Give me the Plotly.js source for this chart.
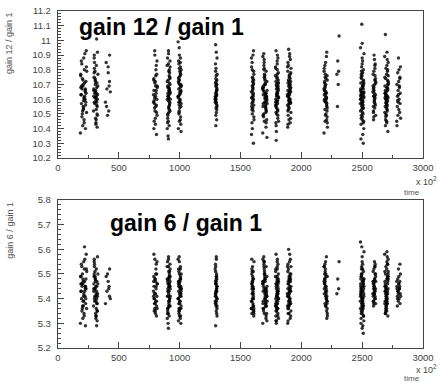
<!DOCTYPE html>
<html>
<head>
<meta charset="utf-8">
<script src="https://cdn.plot.ly/plotly-3.0.1.min.js"></script>
<style>html,body{margin:0;padding:0;background:#fff;}#chart{width:438px;height:383px;}</style>
</head>
<body>
<div id="chart"></div>
<script>
// Time positions of each run cluster (x, in units of 10^2) and their spread
const bandX = [210, 310, 410, 800, 910, 1000, 1300, 1600, 1700, 1800, 1900, 2200, 2300, 2500, 2600, 2700, 2800];
const bandHalfWidth = [26, 18, 20, 17, 13, 13, 8, 11, 19, 13, 15, 15, 12, 15, 12, 15, 16];
// hand-read in-band horizontal scatter pattern (fraction of half width)
const jit = [-0.8,0.3,-0.1,0.9,-0.5,0.6,0.0,-0.9,0.4,-0.3,0.8,-0.6,0.2,-0.2,0.7,-0.7,0.1,0.5,-0.4,1.0,-1.0,0.35,-0.15,0.65,-0.55,0.15,-0.85,0.45,-0.35,0.85,-0.05,0.55,-0.65,0.25,-0.25,0.75,-0.75,0.05,0.95,-0.45,0.3,-0.9,0.6,-0.2,0.0,0.8,-0.6,0.4,-0.4,0.2,-0.7,0.1,0.9,-0.3,0.5];

// gain 12 / gain 1 values per cluster
const g12_210 = [10.63,10.71,10.55,10.82,10.48,10.67,10.59,10.76,10.91,10.52,10.64,10.69,10.44,10.73,10.58,10.86,10.61,10.66,10.50,10.79,10.37,10.62,10.70,10.56,10.84,10.46,10.68,10.60,10.74,10.93,10.53,10.65,10.57,10.80,10.42,10.72,10.63,10.88,10.51,10.67,10.60,10.77,10.40,10.69,10.54];
const g12_310 = [10.66,10.58,10.74,10.49,10.81,10.62,10.70,10.55,10.88,10.44,10.68,10.61,10.77,10.52,10.64,10.72,10.41,10.85,10.59,10.67,10.56,10.79,10.63,10.47,10.71,10.90,10.53,10.65,10.60,10.75,10.43,10.69,10.57,10.83,10.62,10.50,10.73,10.66,10.92,10.58,11.01,10.64,10.46,10.78,10.61];
const g12_410 = [10.90,10.85,10.82,10.69,10.67,10.65,10.58,10.52,10.49,10.72,10.55,10.78];
const g12_800 = [10.64,10.52,10.77,10.45,10.69,10.58,10.83,10.61,10.49,10.72,10.36,10.66,10.55,10.90,10.60,10.74,10.43,10.68,10.57,10.80,10.63,10.51,10.71,10.47,10.86,10.59,10.66,10.54,10.76,10.40,10.62,10.69,10.93,10.56,10.73];
const g12_910 = [10.62,10.70,10.54,10.78,10.47,10.66,10.59,10.74,10.88,10.51,10.64,10.68,10.42,10.72,10.57,10.84,10.61,10.65,10.49,10.80,10.35,10.63,10.69,10.55,10.82,10.45,10.67,10.60,10.76,10.91,10.52,10.64,10.58,10.79,10.40,10.71,10.62,10.86,10.50,10.66,10.33,10.75,10.44,10.68,10.56,10.73,10.60,10.83,10.53,10.93];
const g12_1000 = [10.65,10.72,10.58,10.80,10.50,10.68,10.62,10.77,10.90,10.54,10.66,10.71,10.46,10.75,10.60,10.86,10.63,10.69,10.52,10.82,10.40,10.64,10.73,10.57,10.84,10.48,10.70,10.61,10.78,10.95,10.55,10.67,10.59,10.81,10.43,10.74,10.65,10.88,10.51,10.69,10.99,10.76,10.45,10.70,10.58,10.79,10.62,10.85,10.56,10.38];
const g12_1300 = [10.66,10.60,10.72,10.55,10.79,10.63,10.69,10.51,10.84,10.58,10.67,10.74,10.46,10.62,10.70,10.57,10.88,10.64,10.53,10.76,10.61,10.68,10.42,10.73,10.59,10.65,10.81,10.56,10.71,10.92,10.63,10.49,10.77,10.60,10.66,10.54,10.70,10.97,10.62,10.58];
const g12_1600 = [10.63,10.55,10.74,10.48,10.69,10.60,10.82,10.52,10.66,10.77,10.44,10.71,10.58,10.88,10.62,10.50,10.73,10.57,10.67,10.40,10.79,10.61,10.54,10.70,10.85,10.46,10.65,10.59,10.75,10.93,10.53,10.68,10.36,10.64,10.80,10.56,10.72,10.30,10.61,10.90];
const g12_1700 = [10.64,10.58,10.72,10.50,10.79,10.61,10.68,10.54,10.85,10.46,10.66,10.60,10.75,10.52,10.63,10.70,10.41,10.83,10.57,10.67,10.55,10.77,10.62,10.48,10.71,10.89,10.53,10.65,10.59,10.74,10.44,10.69,10.56,10.81,10.61,10.49,10.73,10.66,10.91,10.58,10.37,10.64,10.45,10.76,10.60,10.68,10.51,10.80,10.63,10.57,10.70,10.34,10.87,10.62,10.55];
const g12_1800 = [10.65,10.59,10.73,10.51,10.80,10.62,10.69,10.55,10.86,10.47,10.67,10.61,10.76,10.53,10.64,10.71,10.42,10.84,10.58,10.68,10.56,10.78,10.63,10.49,10.72,10.90,10.54,10.66,10.60,10.75,10.45,10.70,10.57,10.82,10.62,10.50,10.74,10.67,10.93,10.59,10.38,10.65,10.44,10.77,10.61,10.69,10.52,10.81,10.64,10.58,10.71,10.32,10.88,10.63,10.56];
const g12_1900 = [10.66,10.60,10.74,10.53,10.81,10.63,10.70,10.57,10.87,10.49,10.68,10.62,10.77,10.55,10.65,10.72,10.44,10.85,10.59,10.69,10.58,10.79,10.64,10.51,10.73,10.91,10.56,10.67,10.61,10.76,10.47,10.71,10.58,10.83,10.63,10.52,10.75,10.68,10.94,10.60,10.41,10.66,10.46,10.78,10.62,10.70,10.54,10.82,10.65,10.59,10.72,10.43,10.89,10.64,10.57];
const g12_2200 = [10.64,10.57,10.72,10.50,10.79,10.61,10.68,10.54,10.85,10.46,10.66,10.60,10.75,10.52,10.63,10.70,10.41,10.83,10.58,10.67,10.55,10.77,10.62,10.48,10.71,10.89,10.53,10.65,10.59,10.74,10.44,10.69,10.56,10.81,10.61,10.49,10.73,10.66,10.92,10.58,10.37,10.64,10.45,10.76,10.60];
const g12_2300 = [11.03,10.86,10.79,10.77,10.70,10.55];
const g12_2500 = [10.63,10.57,10.71,10.49,10.78,10.60,10.67,10.53,10.84,10.45,10.65,10.59,10.74,10.51,10.62,10.69,10.40,10.82,10.56,10.66,10.54,10.76,10.61,10.47,10.70,10.88,10.52,10.64,10.58,10.73,10.43,10.68,10.55,10.80,10.60,10.48,10.72,10.65,10.91,10.57,10.36,10.63,10.44,10.75,10.59,10.67,10.50,10.79,10.62,10.56,10.69,10.33,10.86,10.61,10.54,10.71,10.46,10.65,10.77,10.58,10.95,10.30,11.11,10.98,10.64];
const g12_2600 = [10.66,10.58,10.74,10.52,10.81,10.62,10.70,10.55,10.87,10.49,10.68,10.61,10.77,10.54,10.64,10.72,10.46,10.84,10.59,10.69,10.57,10.79,10.63,10.51,10.73,10.90,10.56,10.67,10.60,10.76,10.48,10.71,10.65,10.83,10.62];
const g12_2700 = [10.64,10.58,10.72,10.50,10.79,10.61,10.68,10.54,10.85,10.46,10.66,10.60,10.75,10.52,10.63,10.70,10.42,10.83,10.57,10.67,10.55,10.77,10.62,10.48,10.71,10.89,10.53,10.65,10.59,10.74,10.44,10.69,10.56,10.81,10.61,10.49,10.73,10.66,10.92,10.58,10.38,10.64,10.45,10.76,10.60,10.68,10.51,10.80,10.63,10.57,10.70,11.04,10.87,10.62,10.55];
const g12_2800 = [10.88,10.82,10.78,10.75,10.72,10.70,10.68,10.66,10.64,10.62,10.60,10.58,10.57,10.55,10.53,10.51,10.49,10.47,10.45,10.69,10.63,10.74,10.59,10.80,10.42];

// gain 6 / gain 1 values per cluster
const g6_210 = [5.43,5.47,5.39,5.52,5.35,5.45,5.41,5.49,5.56,5.37,5.44,5.46,5.33,5.48,5.40,5.54,5.42,5.45,5.36,5.51,5.30,5.43,5.47,5.38,5.53,5.34,5.46,5.41,5.50,5.58,5.37,5.44,5.40,5.52,5.32,5.48,5.43,5.55,5.36,5.45,5.61,5.49,5.29,5.46,5.39];
const g6_310 = [5.44,5.40,5.49,5.35,5.53,5.42,5.47,5.38,5.55,5.33,5.45,5.41,5.50,5.37,5.43,5.48,5.31,5.54,5.39,5.46,5.38,5.51,5.42,5.34,5.47,5.56,5.36,5.44,5.41,5.49,5.32,5.46,5.39,5.52,5.43,5.35,5.48,5.45,5.57,5.40,5.29,5.44,5.33,5.50,5.41];
const g6_410 = [5.52,5.49,5.47,5.45,5.43,5.40,5.38,5.44,5.50,5.41];
const g6_800 = [5.44,5.38,5.50,5.35,5.47,5.41,5.54,5.42,5.36,5.48,5.33,5.45,5.39,5.56,5.41,5.49,5.34,5.46,5.40,5.52,5.43,5.37,5.48,5.35,5.55,5.40,5.45,5.38,5.50,5.58,5.42,5.46,5.36,5.39,5.47];
const g6_910 = [5.43,5.47,5.39,5.51,5.35,5.45,5.41,5.49,5.55,5.37,5.44,5.46,5.33,5.48,5.40,5.53,5.42,5.45,5.36,5.50,5.30,5.43,5.47,5.38,5.52,5.34,5.46,5.41,5.49,5.57,5.37,5.44,5.40,5.51,5.32,5.48,5.43,5.54,5.36,5.45,5.28,5.49,5.34,5.46,5.39,5.48,5.41,5.53,5.37,5.56];
const g6_1000 = [5.42,5.46,5.38,5.50,5.34,5.44,5.40,5.48,5.55,5.36,5.43,5.45,5.32,5.47,5.39,5.52,5.41,5.44,5.35,5.49,5.31,5.42,5.46,5.37,5.51,5.33,5.45,5.40,5.48,5.57,5.36,5.43,5.39,5.50,5.30,5.47,5.42,5.53,5.35,5.44,5.56,5.48,5.33,5.45,5.38,5.47,5.40,5.52,5.36,5.41];
const g6_1300 = [5.44,5.41,5.48,5.37,5.51,5.43,5.46,5.39,5.54,5.35,5.45,5.42,5.49,5.38,5.44,5.47,5.33,5.53,5.40,5.46,5.39,5.50,5.43,5.36,5.47,5.56,5.38,5.45,5.41,5.49,5.34,5.46,5.40,5.52,5.43,5.37,5.48,5.29,5.57,5.42];
const g6_1600 = [5.43,5.39,5.48,5.35,5.51,5.41,5.46,5.37,5.53,5.34,5.44,5.40,5.49,5.36,5.42,5.47,5.33,5.52,5.38,5.45,5.37,5.50,5.42,5.35,5.46,5.55,5.36,5.44,5.40,5.48,5.34,5.45,5.39,5.51,5.42,5.36,5.47,5.44,5.56,5.40];
const g6_1700 = [5.44,5.40,5.49,5.36,5.53,5.42,5.47,5.38,5.55,5.34,5.45,5.41,5.50,5.37,5.43,5.48,5.32,5.54,5.39,5.46,5.38,5.51,5.42,5.35,5.47,5.56,5.37,5.44,5.41,5.49,5.33,5.46,5.39,5.52,5.43,5.36,5.48,5.45,5.57,5.40,5.30,5.44,5.34,5.50,5.41,5.47,5.37,5.53,5.43,5.39,5.48,5.31,5.55,5.42,5.38];
const g6_1800 = [5.43,5.39,5.48,5.35,5.52,5.41,5.46,5.37,5.55,5.33,5.44,5.40,5.49,5.36,5.42,5.47,5.31,5.53,5.38,5.45,5.37,5.50,5.41,5.34,5.46,5.56,5.36,5.43,5.40,5.48,5.32,5.45,5.38,5.51,5.42,5.35,5.47,5.44,5.58,5.39,5.30,5.43,5.33,5.49,5.40,5.46,5.36,5.52,5.42,5.38,5.47,5.31,5.54,5.41,5.37];
const g6_1900 = [5.44,5.40,5.49,5.36,5.53,5.42,5.47,5.38,5.56,5.34,5.45,5.41,5.50,5.37,5.43,5.48,5.32,5.54,5.39,5.46,5.38,5.51,5.42,5.35,5.47,5.58,5.37,5.44,5.41,5.49,5.33,5.46,5.39,5.52,5.43,5.36,5.48,5.45,5.60,5.40,5.30,5.44,5.34,5.50,5.41,5.47,5.37,5.53,5.43,5.39,5.48,5.31,5.55,5.42,5.38];
const g6_2200 = [5.45,5.41,5.50,5.37,5.53,5.43,5.48,5.39,5.55,5.35,5.46,5.42,5.51,5.38,5.44,5.49,5.33,5.54,5.40,5.47,5.39,5.52,5.43,5.36,5.48,5.57,5.38,5.45,5.42,5.50,5.34,5.47,5.40,5.53,5.44,5.37,5.49,5.46,5.32,5.41];
const g6_2300 = [5.55,5.48,5.44,5.42];
const g6_2500 = [5.43,5.39,5.48,5.35,5.52,5.41,5.46,5.37,5.55,5.33,5.44,5.40,5.49,5.36,5.42,5.47,5.31,5.53,5.38,5.45,5.37,5.50,5.41,5.34,5.46,5.57,5.36,5.43,5.40,5.48,5.32,5.45,5.38,5.51,5.42,5.35,5.47,5.44,5.59,5.39,5.29,5.43,5.33,5.49,5.40,5.46,5.36,5.52,5.42,5.38,5.47,5.30,5.54,5.41,5.37,5.48,5.34,5.45,5.50,5.39,5.63,5.26,5.61,5.28,5.44];
const g6_2600 = [5.46,5.42,5.50,5.39,5.53,5.44,5.48,5.41,5.55,5.38,5.47,5.43,5.51,5.40,5.45,5.49,5.37,5.54,5.42,5.47,5.41,5.52,5.44,5.39,5.48,5.45,5.40,5.46,5.43,5.50,5.38,5.47,5.42,5.53,5.44];
const g6_2700 = [5.45,5.41,5.50,5.37,5.54,5.43,5.48,5.39,5.56,5.35,5.46,5.42,5.51,5.38,5.44,5.49,5.34,5.55,5.40,5.47,5.39,5.52,5.43,5.36,5.48,5.58,5.38,5.45,5.42,5.50,5.35,5.47,5.40,5.53,5.44,5.37,5.49,5.46,5.59,5.41,5.33,5.45,5.36,5.51,5.42,5.48,5.38,5.54,5.44,5.40,5.49,5.34,5.57,5.43,5.39];
const g6_2800 = [5.52,5.50,5.48,5.47,5.46,5.45,5.44,5.43,5.42,5.41,5.40,5.39,5.38,5.37,5.49,5.45,5.43,5.41,5.47,5.44,5.42,5.54,5.40,5.46,5.44];

const g12Bands = [g12_210,g12_310,g12_410,g12_800,g12_910,g12_1000,g12_1300,g12_1600,g12_1700,g12_1800,g12_1900,g12_2200,g12_2300,g12_2500,g12_2600,g12_2700,g12_2800];
const g6Bands = [g6_210,g6_310,g6_410,g6_800,g6_910,g6_1000,g6_1300,g6_1600,g6_1700,g6_1800,g6_1900,g6_2200,g6_2300,g6_2500,g6_2600,g6_2700,g6_2800];

function flatten(bands) {
  const xs = [], ys = [];
  bands.forEach((vals, i) => {
    vals.forEach((v, j) => {
      xs.push(bandX[i] + jit[(j + i * 7) % jit.length] * bandHalfWidth[i]);
      ys.push(v);
    });
  });
  return {xs, ys};
}
const ptsTop = flatten(g12Bands);
const ptsBot = flatten(g6Bands);

const markerStyle = {color: '#000', size: 3.4, opacity: 0.8, line: {width: 0}};
const traces = [
  {type: 'scatter', mode: 'markers', x: ptsTop.xs, y: ptsTop.ys, xaxis: 'x', yaxis: 'y', marker: markerStyle, hoverinfo: 'skip'},
  {type: 'scatter', mode: 'markers', x: ptsBot.xs, y: ptsBot.ys, xaxis: 'x2', yaxis: 'y2', marker: markerStyle, hoverinfo: 'skip'}
];

const axisLine = '#444';
const tickFont = {family: 'Liberation Sans, Arial, sans-serif', size: 9.5, color: '#444'};
const xCommon = {
  range: [0, 3000], tickmode: 'array', tickvals: [0, 500, 1000, 1500, 2000, 2500, 3000],
  ticks: 'inside', ticklen: 6, tickcolor: axisLine, tickwidth: 1,
  minor: {tickmode: 'linear', tick0: 0, dtick: 250, ticks: 'inside', ticklen: 3, tickcolor: axisLine, showgrid: false},
  showline: true, linecolor: axisLine, linewidth: 1.2, mirror: true,
  showgrid: false, zeroline: false, tickfont: tickFont, ticklabelstandoff: 0, fixedrange: true
};
const yCommon = {
  tickmode: 'linear', dtick: 0.1, ticks: 'inside', ticklen: 6, tickcolor: axisLine, tickwidth: 1,
  minor: {tickmode: 'linear', dtick: 0.02, ticks: 'inside', ticklen: 3, tickcolor: axisLine, showgrid: false},
  showline: true, linecolor: axisLine, linewidth: 1.2, mirror: true,
  showgrid: false, zeroline: false, tickfont: tickFont, ticklabelstandoff: 4, fixedrange: true
};

const layout = {
  width: 438, height: 383,
  margin: {l: 58, r: 15, t: 11, b: 35},
  paper_bgcolor: '#fff', plot_bgcolor: '#fff',
  showlegend: false,
  xaxis: Object.assign({}, xCommon, {domain: [0, 1], anchor: 'y'}),
  yaxis: Object.assign({}, yCommon, {domain: [0.5638, 1], range: [10.2, 11.2], tick0: 10.2, anchor: 'x'}),
  xaxis2: Object.assign({}, xCommon, {domain: [0, 1], anchor: 'y2'}),
  yaxis2: Object.assign({}, yCommon, {domain: [0, 0.4392], range: [5.2, 5.8], tick0: 5.2, anchor: 'x2'}),
  annotations: [
    {text: 'gain 12 / gain 1', xref: 'paper', yref: 'paper', x: 0.052, y: 0.9525, xanchor: 'left', yanchor: 'middle', showarrow: false,
     font: {family: 'Liberation Sans, Arial, sans-serif', size: 23, color: '#000', weight: 'bold'}},
    {text: 'gain 6 / gain 1', xref: 'paper', yref: 'paper', x: 0.137, y: 0.371, xanchor: 'left', yanchor: 'middle', showarrow: false,
     font: {family: 'Liberation Sans, Arial, sans-serif', size: 23, color: '#000', weight: 'bold'}},
    {text: 'gain 12 / gain 1', xref: 'paper', yref: 'paper', x: -0.134, y: 1.003, xanchor: 'center', yanchor: 'top', textangle: -90, showarrow: false,
     font: {family: 'Liberation Sans, Arial, sans-serif', size: 9, color: '#555'}},
    {text: 'gain 6 / gain 1', xref: 'paper', yref: 'paper', x: -0.134, y: 0.439, xanchor: 'center', yanchor: 'top', textangle: -90, showarrow: false,
     font: {family: 'Liberation Sans, Arial, sans-serif', size: 9, color: '#555'}},
    {text: 'x 10<sup>2</sup>', xref: 'paper', yref: 'paper', x: 1.045, y: 0.497, xanchor: 'right', yanchor: 'middle', showarrow: false,
     font: {family: 'Liberation Sans, Arial, sans-serif', size: 9, color: '#444'}},
    {text: 'time', xref: 'paper', yref: 'paper', x: 0.97, y: 0.461, xanchor: 'center', yanchor: 'middle', showarrow: false,
     font: {family: 'Liberation Sans, Arial, sans-serif', size: 8, color: '#555'}},
    {text: 'x 10<sup>2</sup>', xref: 'paper', yref: 'paper', x: 1.045, y: -0.062, xanchor: 'right', yanchor: 'middle', showarrow: false,
     font: {family: 'Liberation Sans, Arial, sans-serif', size: 9, color: '#444'}},
    {text: 'time', xref: 'paper', yref: 'paper', x: 0.97, y: -0.09, xanchor: 'center', yanchor: 'middle', showarrow: false,
     font: {family: 'Liberation Sans, Arial, sans-serif', size: 8, color: '#555'}}
  ]
};

Plotly.newPlot('chart', traces, layout, {staticPlot: true, displayModeBar: false});
</script>
</body>
</html>
